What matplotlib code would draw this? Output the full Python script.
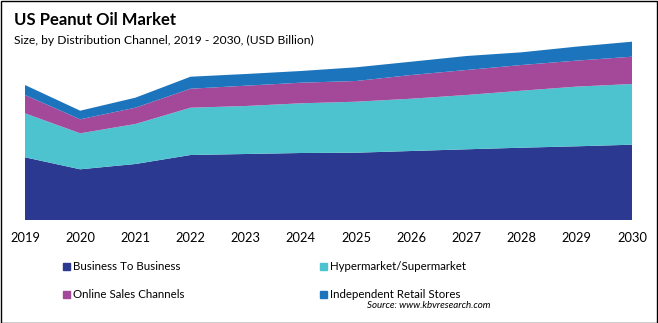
import matplotlib.pyplot as plt
from matplotlib.patches import Rectangle

# Data (arbitrary units)
years = [2019, 2020, 2021, 2022, 2023, 2024, 2025, 2026, 2027, 2028, 2029, 2030]
b2b = [0.627, 0.507, 0.560, 0.650, 0.660, 0.670, 0.673, 0.690, 0.707, 0.723, 0.737, 0.753]
hyper = [0.440, 0.360, 0.400, 0.473, 0.480, 0.497, 0.510, 0.523, 0.543, 0.570, 0.597, 0.607]
online = [0.183, 0.140, 0.163, 0.190, 0.203, 0.206, 0.207, 0.237, 0.250, 0.257, 0.260, 0.273]
indep = [0.100, 0.086, 0.100, 0.120, 0.117, 0.117, 0.137, 0.133, 0.140, 0.127, 0.140, 0.150]

labels = ["Business To Business", "Hypermarket/Supermarket",
          "Online Sales Channels", "Independent Retail Stores"]
colors = ["#2B3990", "#4DC3CF", "#A4489A", "#1C75BC"]

plt.rcParams['font.family'] = ['Lato', 'DejaVu Sans']

W, H = 658, 323
fig = plt.figure(figsize=(W / 100, H / 100), dpi=100)

# axes: 2019 at x=25px, 2030 at x=632px, baseline at y=220px
ax = fig.add_axes([25 / W, (H - 220) / H, (632 - 25) / W, 190 / H])
ax.stackplot(years, b2b, hyper, online, indep, colors=colors, linewidth=0)
ax.set_xlim(2019, 2030)
ax.set_ylim(0, 1.9)
ax.set_xticks(years)
ax.set_xticklabels([str(y) for y in years], fontsize=9.3)
ax.tick_params(axis='x', length=0, pad=9)
ax.set_yticks([])
for s in ax.spines.values():
    s.set_visible(False)

# titles
fig.text(14 / W, 1 - 20 / H, "US Peanut Oil Market", fontsize=12, fontweight='bold',
         va='center', ha='left')
fig.text(14 / W, 1 - 40 / H, "Size, by Distribution Channel, 2019 - 2030, (USD Billion)",
         fontsize=8.7, va='center', ha='left')

# legend drawn by hand
pos = [(63, 266), (320, 266), (63, 294), (320, 294)]
for (x, y), lab, c in zip(pos, labels, colors):
    fig.patches.append(Rectangle((x / W, 1 - (y + 4) / H), 7 / W, 7 / H,
                                 transform=fig.transFigure, color=c))
    fig.text((x + 10) / W, 1 - y / H, lab, fontsize=8.3, va='center', ha='left')

fig.text(490 / W, 1 - 306 / H, "Source: www.kbvresearch.com", fontsize=7,
         style='italic', va='center', ha='right')

# border
fig.patches.append(Rectangle((0.5 / W, 0.5 / H), 1 - 1.5 / W, 1 - 1.5 / H,
                             transform=fig.transFigure, fill=False,
                             edgecolor='black', linewidth=1))

fig.savefig("out.png", dpi=100)
